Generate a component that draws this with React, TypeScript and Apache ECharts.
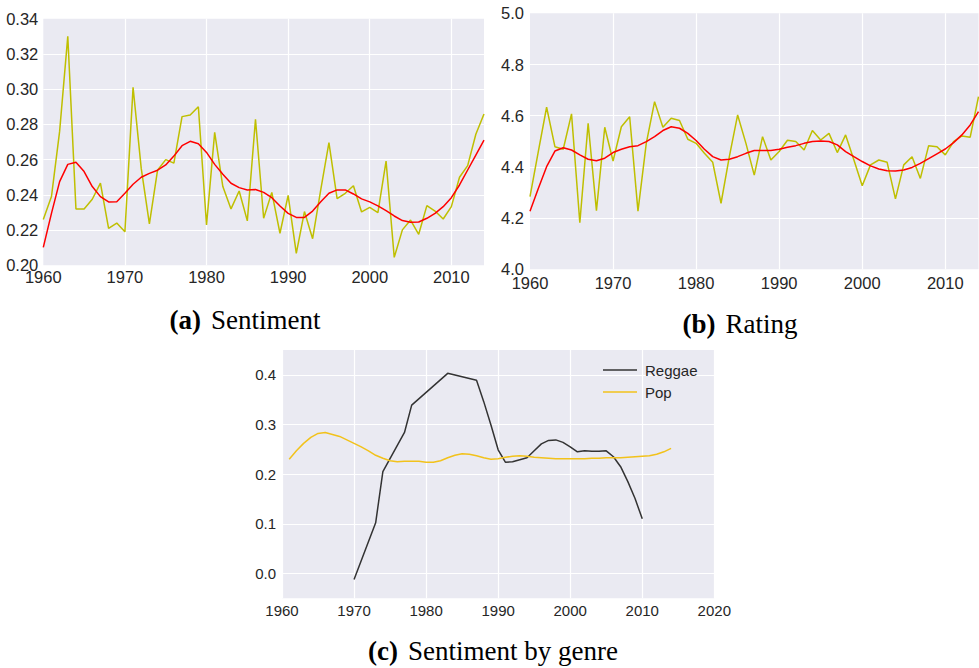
import React, { useEffect, useRef } from "react";
import * as echarts from "echarts";

// Years shared by panels (a) and (b)
const years: number[] = [];
for (let y = 1960; y <= 2014; y++) years.push(y);

// (a) Sentiment: yearly mean and its smoothed trend
const sentimentRaw = [
  0.226, 0.239, 0.276, 0.330, 0.232, 0.232, 0.2375, 0.2467, 0.221, 0.224,
  0.219, 0.301, 0.255, 0.2235, 0.254, 0.260, 0.258, 0.2844, 0.2853, 0.290,
  0.2229, 0.2755, 0.2447, 0.232, 0.2422, 0.2252, 0.2829, 0.2267, 0.2414, 0.2182,
  0.2397, 0.2068, 0.2305, 0.2151, 0.243, 0.2696, 0.2378, 0.2409, 0.2452, 0.2303,
  0.2329, 0.2299, 0.2592, 0.2045, 0.2201, 0.2257, 0.2176, 0.2339, 0.2308, 0.2263,
  0.2333, 0.250, 0.2566, 0.2744, 0.2859,
];
const sentimentSmooth = [
  0.2102, 0.2295, 0.2475, 0.2573, 0.2585, 0.2532, 0.2447, 0.239, 0.236, 0.2361,
  0.2409, 0.246, 0.250, 0.2522, 0.254, 0.257, 0.262, 0.2679, 0.2704, 0.269,
  0.2641, 0.2573, 0.2517, 0.2466, 0.2441, 0.2428, 0.243, 0.2414, 0.2384, 0.2337,
  0.2295, 0.2272, 0.2272, 0.2308, 0.2361, 0.2409, 0.2428, 0.2428, 0.2405, 0.2377,
  0.236, 0.2337, 0.231, 0.228, 0.2254, 0.2244, 0.2246, 0.2267, 0.2295, 0.2333,
  0.2384, 0.2456, 0.2541, 0.2626, 0.2711,
];

// (b) Rating: yearly mean and its smoothed trend
const ratingRaw = [
  4.284, 4.46, 4.633, 4.479, 4.469, 4.607, 4.182, 4.57, 4.229, 4.555,
  4.423, 4.557, 4.596, 4.227, 4.492, 4.655, 4.555, 4.59, 4.581, 4.508,
  4.492, 4.453, 4.418, 4.258, 4.44, 4.603, 4.492, 4.368, 4.518, 4.427,
  4.46, 4.504, 4.499, 4.466, 4.542, 4.505, 4.531, 4.456, 4.525, 4.427,
  4.326, 4.408, 4.427, 4.418, 4.275, 4.408, 4.44, 4.355, 4.483, 4.479,
  4.447, 4.499, 4.521, 4.516, 4.674,
];
const ratingSmooth = [
  4.227, 4.316, 4.401, 4.462, 4.475, 4.466, 4.447, 4.43, 4.424, 4.434,
  4.456, 4.469, 4.479, 4.483, 4.499, 4.518, 4.542, 4.557, 4.551, 4.531,
  4.503, 4.469, 4.44, 4.427, 4.43, 4.44, 4.453, 4.464, 4.464, 4.464,
  4.469, 4.477, 4.483, 4.492, 4.499, 4.501, 4.499, 4.486, 4.46, 4.44,
  4.421, 4.404, 4.392, 4.385, 4.384, 4.388, 4.398, 4.414, 4.432, 4.451,
  4.47, 4.495, 4.525, 4.564, 4.616,
];

// (c) Sentiment by genre
const reggaeYears = [
  1970, 1973, 1974, 1977, 1978, 1983, 1987, 1988, 1989, 1990, 1991, 1992,
  1993, 1994, 1995, 1996, 1997, 1998, 1999, 2000, 2001, 2002, 2003, 2004,
  2005, 2006, 2007, 2008, 2009, 2010,
];
const reggaeValues = [
  -0.012, 0.102, 0.205, 0.284, 0.339, 0.403, 0.389, 0.346, 0.299, 0.249,
  0.224, 0.225, 0.229, 0.233, 0.247, 0.261, 0.268, 0.269, 0.264, 0.255,
  0.245, 0.247, 0.246, 0.246, 0.247, 0.235, 0.215, 0.185, 0.151, 0.110,
];
const popYears: number[] = [];
for (let y = 1961; y <= 2014; y++) popYears.push(y);
const popValues = [
  0.230, 0.247, 0.262, 0.274, 0.282, 0.284, 0.280, 0.276, 0.269, 0.262,
  0.255, 0.247, 0.238, 0.232, 0.227, 0.225, 0.226, 0.226, 0.226, 0.224,
  0.224, 0.227, 0.233, 0.238, 0.241, 0.240, 0.237, 0.233, 0.230, 0.231,
  0.234, 0.236, 0.237, 0.236, 0.234, 0.233, 0.232, 0.231, 0.231, 0.231,
  0.231, 0.231, 0.232, 0.232, 0.233, 0.233, 0.233, 0.234, 0.235, 0.236,
  0.237, 0.240, 0.245, 0.252,
];

const captions = [
  { tag: "(a)", text: "Sentiment" },
  { tag: "(b)", text: "Rating" },
  { tag: "(c)", text: "Sentiment by genre" },
];

const pairs = (xs: number[], vs: number[]) => xs.map((x, i) => [x, vs[i]]);

const INK = "#262626";
const BG = "#EAEAF2";
const SANS = "Liberation Sans, Arial, sans-serif";
const SERIF = "Liberation Serif, serif";

function axisBase(fontSize: number) {
  return {
    axisLine: { show: false },
    axisTick: { show: false },
    splitLine: {
      show: true,
      showMinLine: false,
      showMaxLine: false,
      lineStyle: { color: "#ffffff", width: 1.2 },
    },
    axisLabel: { color: INK, fontFamily: SANS, fontSize },
  };
}

const yearLabel = (v: number) => String(Math.round(v));

export default function App() {
  const ref = useRef<HTMLDivElement>(null);

  useEffect(() => {
    if (!ref.current) return;
    const chart = echarts.init(ref.current, null, { renderer: "svg" });

    const gridA = { left: 43.3, top: 18.7, width: 440.7, height: 246.6 };
    const gridB = { left: 530, top: 13.3, width: 448.5, height: 256 };
    const gridC = { left: 282, top: 350, width: 432.3, height: 248.3 };

    const base16 = axisBase(16.5);
    const base15 = axisBase(15);

    const captionText = (c: { tag: string; text: string }) =>
      `{b|${c.tag}}{n|${c.text}}`;
    const captionRich = {
      b: { fontFamily: SERIF, fontWeight: "bold", fontSize: 27, fill: "#000", padding: [0, 10, 0, 0] },
      n: { fontFamily: SERIF, fontSize: 27, fill: "#000" },
    };

    chart.setOption({
      animation: false,
      backgroundColor: "#ffffff",
      grid: [
        { ...gridA, backgroundColor: BG, show: true, borderWidth: 0, containLabel: false },
        { ...gridB, backgroundColor: BG, show: true, borderWidth: 0, containLabel: false },
        { ...gridC, backgroundColor: BG, show: true, borderWidth: 0, containLabel: false },
      ],
      xAxis: [
        {
          type: "value", gridIndex: 0, min: 1960, max: 2014, interval: 10,
          ...base16,
          axisLabel: { ...base16.axisLabel, margin: 3, showMaxLabel: false, formatter: yearLabel },
        },
        {
          type: "value", gridIndex: 1, min: 1960, max: 2014, interval: 10,
          ...base16,
          axisLabel: { ...base16.axisLabel, margin: 5, showMaxLabel: false, formatter: yearLabel },
        },
        {
          type: "value", gridIndex: 2, min: 1960, max: 2020, interval: 10,
          ...base15,
          splitLine: { ...base15.splitLine, showMinLine: true, showMaxLine: true },
          axisLabel: { ...base15.axisLabel, margin: 5, formatter: yearLabel },
        },
      ],
      yAxis: [
        {
          type: "value", gridIndex: 0, min: 0.2, max: 0.34, interval: 0.02,
          ...base16,
          axisLabel: {
            ...base16.axisLabel, margin: 5,
            formatter: (v: number) => v.toFixed(2),
          },
        },
        {
          type: "value", gridIndex: 1, min: 4.0, max: 5.0, interval: 0.2,
          ...base16,
          axisLabel: {
            ...base16.axisLabel, margin: 6,
            formatter: (v: number) => v.toFixed(1),
          },
        },
        {
          type: "value", gridIndex: 2, min: -0.05, max: 0.45, splitNumber: 5,
          ...base15,
          axisLabel: {
            ...base15.axisLabel, margin: 6,
            formatter: (v: number) =>
              Math.abs(v * 10 - Math.round(v * 10)) < 1e-6 ? v.toFixed(1) : "",
          },
        },
      ],
      legend: {
        data: ["Reggae", "Pop"],
        orient: "vertical",
        left: 598,
        top: 354,
        icon: "rect",
        itemWidth: 34,
        itemHeight: 1.5,
        itemGap: 0,
        textStyle: {
          color: INK,
          fontFamily: SANS,
          fontSize: 15,
          lineHeight: 22,
          padding: [0, 0, 0, 3],
        },
      },
      series: [
        {
          name: "sentiment", type: "line", xAxisIndex: 0, yAxisIndex: 0,
          data: pairs(years, sentimentRaw), showSymbol: false,
          lineStyle: { color: "#BFBF00", width: 1.5 }, itemStyle: { color: "#BFBF00" },
        },
        {
          name: "sentiment trend", type: "line", xAxisIndex: 0, yAxisIndex: 0,
          data: pairs(years, sentimentSmooth), showSymbol: false,
          lineStyle: { color: "#FF0000", width: 1.5 }, itemStyle: { color: "#FF0000" },
        },
        {
          name: "rating", type: "line", xAxisIndex: 1, yAxisIndex: 1,
          data: pairs(years, ratingRaw), showSymbol: false,
          lineStyle: { color: "#BFBF00", width: 1.5 }, itemStyle: { color: "#BFBF00" },
        },
        {
          name: "rating trend", type: "line", xAxisIndex: 1, yAxisIndex: 1,
          data: pairs(years, ratingSmooth), showSymbol: false,
          lineStyle: { color: "#FF0000", width: 1.5 }, itemStyle: { color: "#FF0000" },
        },
        {
          name: "Reggae", type: "line", xAxisIndex: 2, yAxisIndex: 2,
          data: pairs(reggaeYears, reggaeValues), showSymbol: false,
          lineStyle: { color: "#333333", width: 1.5 }, itemStyle: { color: "#333333" },
        },
        {
          name: "Pop", type: "line", xAxisIndex: 2, yAxisIndex: 2,
          data: pairs(popYears, popValues), showSymbol: false,
          lineStyle: { color: "#F2C21B", width: 1.5 }, itemStyle: { color: "#F2C21B" },
        },
      ],
      graphic: [
        {
          type: "text", x: 245, y: 320,
          style: { text: captionText(captions[0]), rich: captionRich, align: "center", verticalAlign: "middle" },
        },
        {
          type: "text", x: 740, y: 324,
          style: { text: captionText(captions[1]), rich: captionRich, align: "center", verticalAlign: "middle" },
        },
        {
          type: "text", x: 493, y: 651,
          style: { text: captionText(captions[2]), rich: captionRich, align: "center", verticalAlign: "middle" },
        },
      ],
    });

    return () => chart.dispose();
  }, []);

  return (
    <div
      ref={ref}
      style={{ position: "fixed", left: 0, top: 0, width: 979, height: 668 }}
    />
  );
}
